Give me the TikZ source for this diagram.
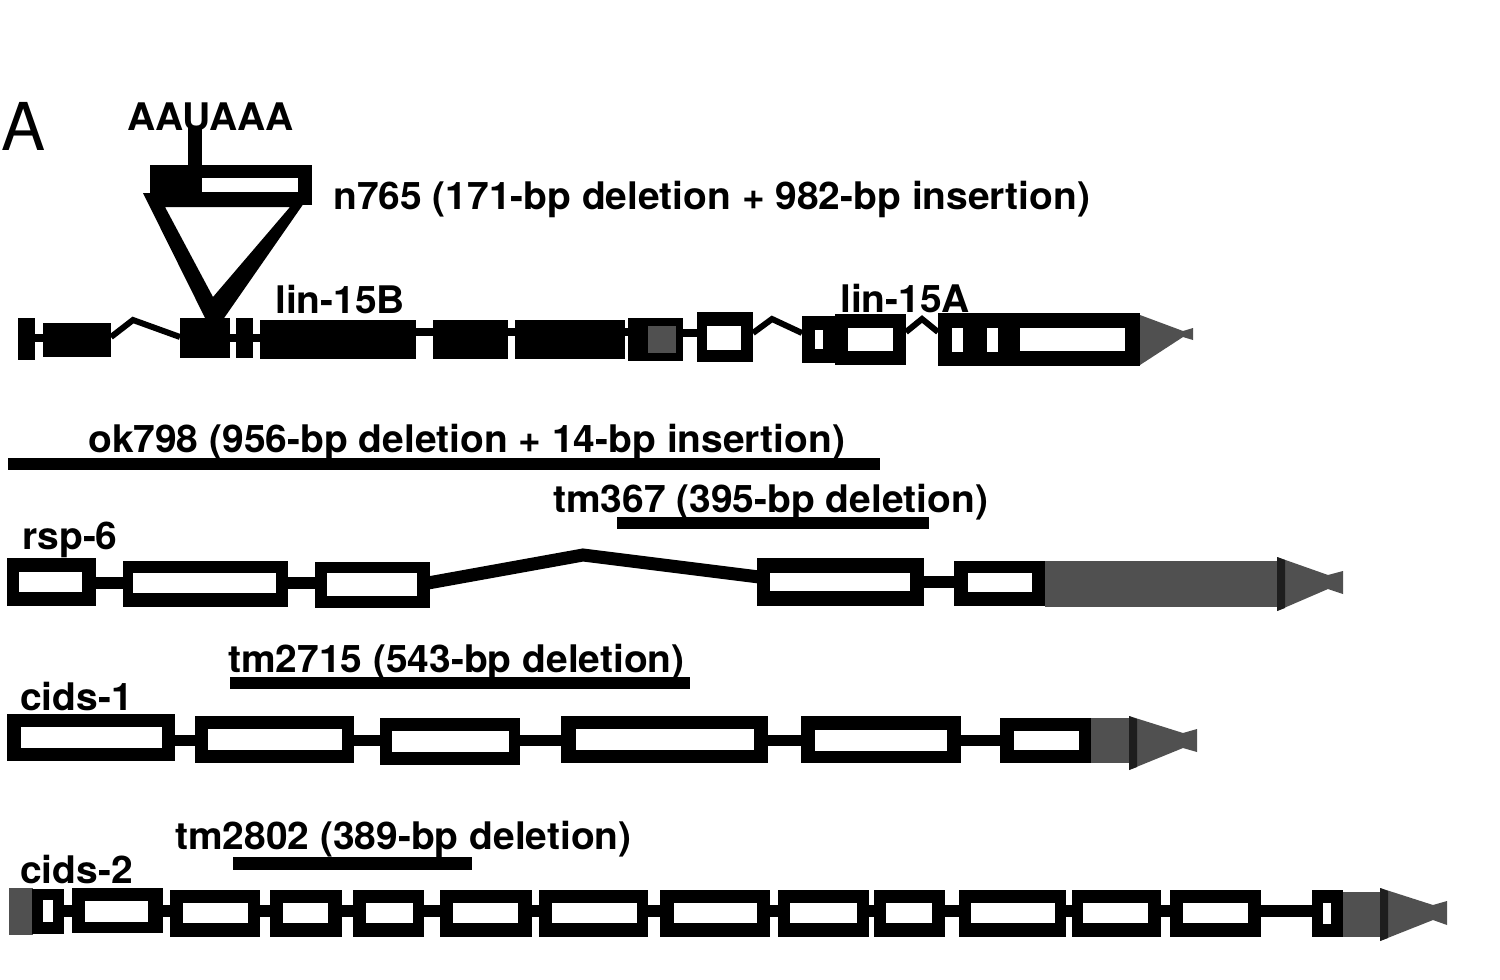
\documentclass[tikz,border=0pt]{standalone}
\usepackage{fontspec}
\setmainfont{TeX Gyre Heros}
\definecolor{utrgray}{HTML}{505050}
\definecolor{utrdark}{HTML}{1E1E1E}
\newcommand\exonbox[8]{\fill[exonblk] (#1,#2) rectangle (#3,#4); \fill[hole] (#5,#6) rectangle (#7,#8);}
\begin{document}
\begin{tikzpicture}[x=1pt,y=-1pt,
  lbl/.style={inner sep=0pt, anchor=base west, xscale=1.025, font=\bfseries\fontsize{38}{40}\selectfont},
  exonblk/.style={fill=black},
  hole/.style={fill=white},
  intron/.style={draw=black, line width=11pt},
  thinintron/.style={draw=black, line width=8pt},
  zig/.style={draw=black, line width=6pt, line join=miter},
  utr/.style={fill=utrgray},
  utredge/.style={fill=utrdark},
  delbar/.style={fill=black}]
\useasboundingbox (0,0) rectangle (1500,980);

% ---------- labels ----------
\node[inner sep=0pt, anchor=base west, font=\fontsize{66}{70}\selectfont] (panelA) at (1,150) {A};
\node[lbl] (polyA) at (127,130) {AAUAAA};
\node[lbl] (n765) at (333,209) {n765 (171-bp deletion + 982-bp insertion)};
\node[lbl] (lin15B) at (275,313) {lin-15B};
\node[lbl] (lin15A) at (840,312) {lin-15A};
\node[lbl] (ok798) at (88,452) {ok798 (956-bp deletion + 14-bp insertion)};
\node[lbl] (tm367) at (553,512) {tm367 (395-bp deletion)};
\node[lbl] (rsp6) at (22,549) {rsp-6};
\node[lbl] (tm2715) at (228,672) {tm2715 (543-bp deletion)};
\node[lbl] (cids1) at (20,710) {cids-1};
\node[lbl] (tm2802) at (175,849) {tm2802 (389-bp deletion)};
\node[lbl] (cids2) at (20,883) {cids-2};

% ---------- deletion bars ----------
\fill[delbar] (8,458) rectangle (880,470);
\fill[delbar] (617,517) rectangle (929,529);
\fill[delbar] (230,677) rectangle (690,689);
\fill[delbar] (233,857) rectangle (472,870);

% ---------- lin-15 ----------
% insertion
\fill[exonblk] (188,127) rectangle (202,166);
\exonbox{150}{165}{312}{205}{202}{178}{298}{192}
\fill[exonblk, even odd rule] (143,193) -- (311,193) -- (213,334) -- cycle
   (165,207) -- (290,207) -- (213,297) -- cycle;
% gene
\draw[thinintron] (35,338) -- (43,338);
\fill[exonblk] (18,318) rectangle (35,360);
\fill[exonblk] (43,323) rectangle (111,357);
\draw[zig] (111,337) -- (133,320) -- (180,337);
\fill[exonblk] (180,318) rectangle (230,358);
\fill[exonblk] (236,318) rectangle (253,358);
\draw[thinintron] (230,338) -- (260,338);
\fill[exonblk] (260,320) rectangle (416,359);
\draw[thinintron] (416,332) -- (433,332);
\fill[exonblk] (433,320) rectangle (508,359);
\draw[thinintron] (508,332) -- (515,332);
\fill[exonblk] (515,320) rectangle (625,359);
\draw[thinintron] (625,332) -- (628,332);
\fill[exonblk] (628,318) rectangle (683,361);
\fill[utr] (648,326) rectangle (676,353);
\draw[thinintron] (683,333) -- (697,333);
\exonbox{697}{312}{753}{362}{707}{326}{741}{350}
\draw[zig] (753,333) -- (772,319) -- (802,333);
\exonbox{802}{316}{837}{363}{815}{330}{823}{349}
\exonbox{835}{314}{906}{365}{848}{328}{893}{351}
\draw[zig] (906,332) -- (922,319) -- (938,332);
\fill[exonblk] (938,313) rectangle (1140,366);
\fill[hole] (952,328) rectangle (963,352);
\fill[hole] (987,328) rectangle (998,352);
\fill[hole] (1020,328) rectangle (1125,351);
\fill[utr] (1140,315) -- (1183,331) -- (1193,328) -- (1193,340) -- (1183,337) -- (1140,365) -- cycle;

% ---------- rsp-6 ----------
\draw[intron, line width=12pt] (96,583) -- (123,583);
\draw[intron, line width=12pt] (288,583) -- (315,583);
\draw[intron, line width=13pt, line join=miter] (428,583) -- (583,555) -- (759,577);
\draw[intron, line width=12pt] (924,582) -- (954,582);
\exonbox{7}{558}{96}{606}{19}{572}{82}{592}
\exonbox{123}{561}{288}{607}{133}{573}{276}{593}
\exonbox{315}{562}{430}{608}{327}{573}{417}{596}
\exonbox{757}{558}{924}{606}{770}{573}{910}{591}
\exonbox{954}{561}{1045}{606}{968}{573}{1032}{592}
\fill[utr] (1045,561) rectangle (1278,607);
\fill[utr] (1277,557) -- (1328,575) -- (1343,571) -- (1343,594) -- (1328,589) -- (1277,611) -- cycle;
\fill[utredge] (1277,557) -- (1285,560) -- (1285,608) -- (1277,611) -- cycle;

% ---------- cids-1 ----------
\draw[intron] (175,740) -- (1000,740);
\exonbox{7}{714}{175}{761}{21}{727}{162}{748}
\exonbox{195}{716}{354}{763}{208}{729}{342}{750}
\exonbox{380}{718}{520}{765}{392}{731}{509}{752}
\exonbox{561}{716}{768}{763}{576}{729}{754}{750}
\exonbox{801}{716}{961}{763}{815}{730}{947}{751}
\exonbox{1000}{718}{1091}{763}{1014}{731}{1079}{750}
\fill[utr] (1091,718) rectangle (1130,763);
\fill[utr] (1129,716) -- (1183,733) -- (1197,729) -- (1197,752) -- (1183,748) -- (1129,770) -- cycle;
\fill[utredge] (1129,716) -- (1137,719) -- (1137,767) -- (1129,770) -- cycle;

% ---------- cids-2 ----------
\draw[intron, line width=12pt] (32,911) -- (1343,911);
\fill[utr] (9,888) rectangle (33,935);
\exonbox{32}{889}{64}{934}{43}{900}{53}{922}
\exonbox{72}{888}{163}{933}{85}{901}{148}{922}
\exonbox{170}{890}{260}{937}{183}{903}{248}{923}
\exonbox{270}{890}{342}{937}{283}{903}{328}{923}
\exonbox{353}{890}{424}{937}{366}{903}{413}{923}
\exonbox{440}{890}{532}{937}{453}{903}{518}{923}
\exonbox{539}{890}{648}{937}{552}{903}{637}{923}
\exonbox{660}{890}{770}{937}{674}{903}{757}{923}
\exonbox{778}{890}{869}{937}{790}{903}{857}{923}
\exonbox{874}{890}{945}{937}{886}{903}{932}{923}
\exonbox{959}{890}{1066}{937}{971}{903}{1055}{923}
\exonbox{1072}{890}{1161}{937}{1083}{903}{1148}{923}
\exonbox{1170}{890}{1261}{937}{1183}{903}{1248}{923}
\exonbox{1312}{890}{1343}{937}{1323}{903}{1331}{924}
\fill[utr] (1343,892) rectangle (1381,937);
\fill[utr] (1380,888) -- (1433,905) -- (1447,901) -- (1447,925) -- (1433,920) -- (1380,941) -- cycle;
\fill[utredge] (1380,888) -- (1388,891) -- (1388,938) -- (1380,941) -- cycle;
\end{tikzpicture}
\end{document}
